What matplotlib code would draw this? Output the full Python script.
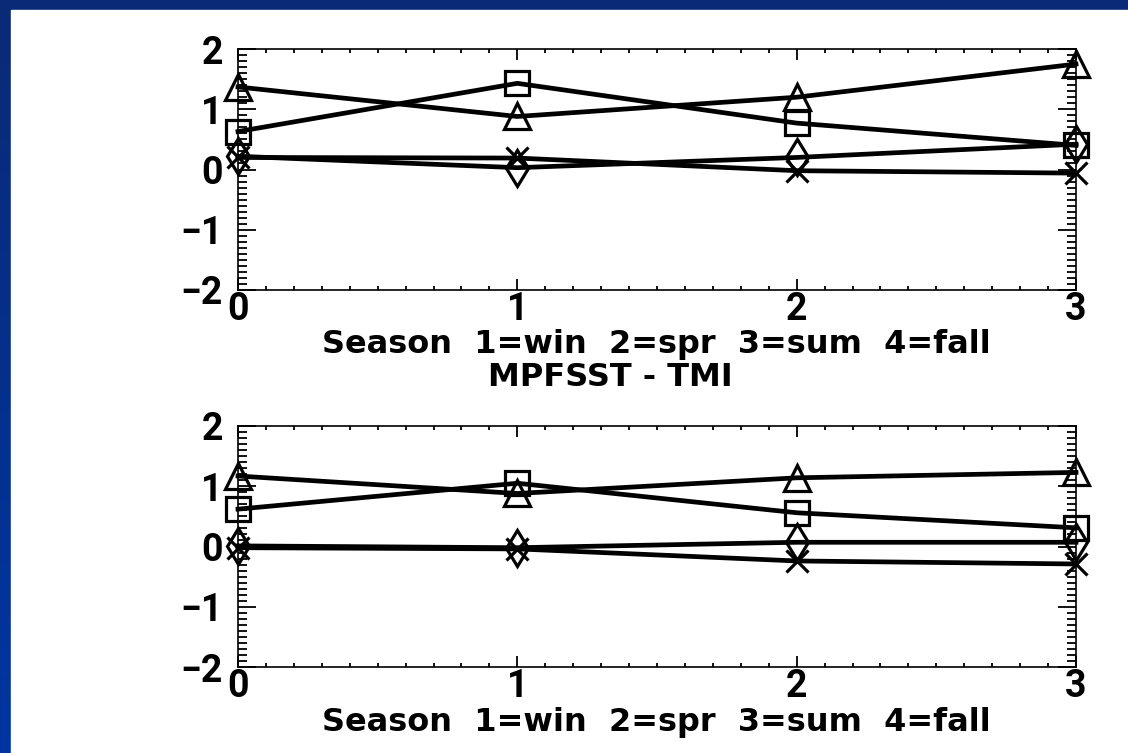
import matplotlib
matplotlib.use("Agg")
import numpy as np
import matplotlib.pyplot as plt
from matplotlib.patches import Rectangle
from matplotlib.ticker import MultipleLocator

# season index on the x axis
seasons = [0, 1, 2, 3]

# upper panel
top_triangle = [1.37, 0.88, 1.20, 1.75]
top_square = [0.63, 1.43, 0.77, 0.40]
top_diamond = [0.22, 0.03, 0.20, 0.42]
top_cross = [0.20, 0.19, -0.02, -0.06]

# lower panel (MPFSST - TMI)
bot_triangle = [1.17, 0.88, 1.14, 1.23]
bot_square = [0.62, 1.05, 0.56, 0.31]
bot_diamond = [0.01, -0.02, 0.07, 0.07]
bot_cross = [-0.02, -0.04, -0.24, -0.29]

x_ticks = [0, 1, 2, 3]
y_ticks = [-2, -1, 0, 1, 2]
x_label = "Season  1=win  2=spr  3=sum  4=fall"
bottom_title = "MPFSST - TMI"

W, H = 1128, 753
TICK_FONT = ["Roboto", "DejaVu Sans"]
TEXT_FONT = "DejaVu Sans"

fig = plt.figure(figsize=(W / 100, H / 100), dpi=100)

# blue slide frame, darker at the top
bg = fig.add_axes([0, 0, 1, 1], zorder=-10)
grad = np.linspace(0, 1, 256).reshape(-1, 1)
bg.imshow(grad, aspect="auto", extent=[0, 1, 0, 1], origin="upper",
          cmap=matplotlib.colors.LinearSegmentedColormap.from_list(
              "slide", ["#0a2a76", "#0036a2"]))
bg.axis("off")
fig.add_artist(Rectangle((11 / W, 0), 1 - 11 / W, (H - 10) / H,
                         transform=fig.transFigure, color="white", zorder=-5))


def px(x, y):
    return x / W, 1 - y / H


def panel(top_px, series):
    bottom_px = top_px + 241
    ax = fig.add_axes([238 / W, 1 - bottom_px / H, 838 / W, 241 / H])
    ax.set_facecolor("white")
    markers = [("^", 19), ("s", 17), ("d", 18), ("x", 16)]
    for vals, (m, ms) in zip(series, markers):
        ax.plot(seasons, vals, color="black", lw=3.4, marker=m, ms=ms,
                mfc="none", mec="black", mew=2.3, clip_on=False)
    ax.set_xlim(0, 3)
    ax.set_ylim(-2, 2)
    ax.set_xticks(x_ticks)
    ax.set_yticks(y_ticks)
    ax.set_yticklabels([str(v).replace("-", "\u2212") for v in y_ticks])
    ax.xaxis.set_minor_locator(MultipleLocator(0.1))
    ax.yaxis.set_minor_locator(MultipleLocator(0.1))
    ax.tick_params(axis="both", which="both", direction="in",
                   top=True, right=True, width=1.3, colors="black")
    ax.tick_params(axis="x", which="major", length=8, pad=1)
    ax.tick_params(axis="x", which="minor", length=3)
    ax.tick_params(axis="y", which="major", length=13, pad=11)
    ax.tick_params(axis="y", which="minor", length=6.5)
    for lab in ax.get_xticklabels() + ax.get_yticklabels():
        lab.set_fontfamily(TICK_FONT)
        lab.set_fontweight("bold")
        lab.set_fontsize(27)
    for sp in ax.spines.values():
        sp.set_linewidth(1.2)
    fig.text(*px(656, bottom_px + 55), x_label, ha="center", va="center",
             fontsize=23, fontweight="bold", family=TEXT_FONT)
    return ax


panel(49, [top_triangle, top_square, top_diamond, top_cross])
panel(426, [bot_triangle, bot_square, bot_diamond, bot_cross])

fig.text(*px(610, 378), bottom_title, ha="center", va="center",
         fontsize=23, fontweight="bold", family=TEXT_FONT)

fig.savefig("out.png", dpi=100)
